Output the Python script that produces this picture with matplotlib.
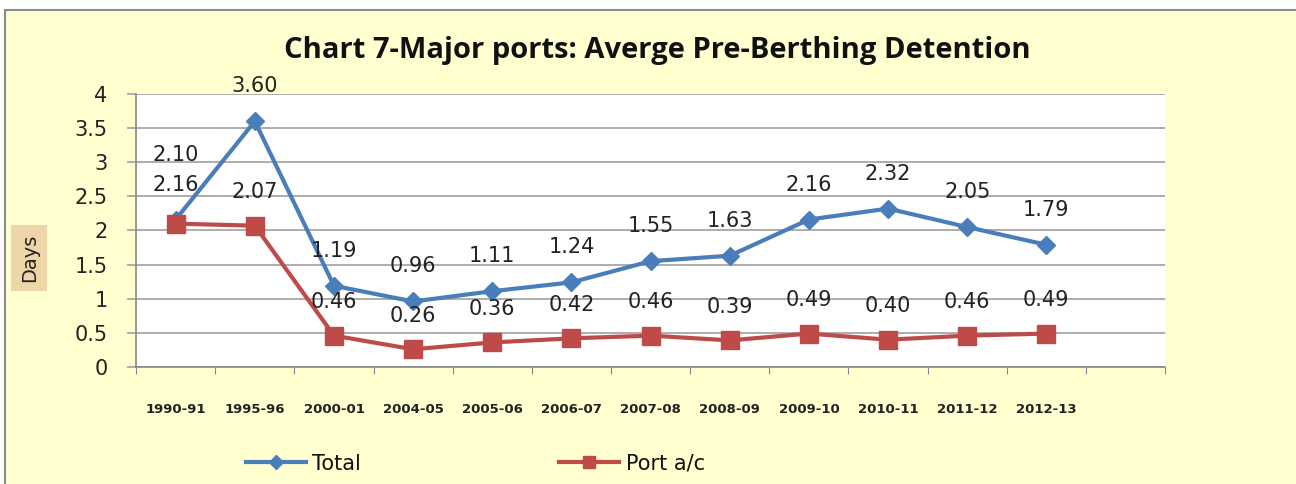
import matplotlib
matplotlib.use("Agg")
import matplotlib.pyplot as plt
import numpy as np

years = ["1990-91", "1995-96", "2000-01", "2004-05", "2005-06", "2006-07",
         "2007-08", "2008-09", "2009-10", "2010-11", "2011-12", "2012-13"]
total = [2.16, 3.60, 1.19, 0.96, 1.11, 1.24, 1.55, 1.63, 2.16, 2.32, 2.05, 1.79]
port = [2.10, 2.07, 0.46, 0.26, 0.36, 0.42, 0.46, 0.39, 0.49, 0.40, 0.46, 0.49]
yticks = [0, 0.5, 1, 1.5, 2, 2.5, 3, 3.5, 4]
ytick_labels = ["0", "0.5", "1", "1.5", "2", "2.5", "3", "3.5", "4"]

plt.rcParams['font.family'] = ['DejaVu Sans']

bg = "#FFFFD0"
blue = "#4A7EBB"
red = "#BE4B48"
txt = "#222222"

fig = plt.figure(figsize=(12.96, 4.84), dpi=100, facecolor="white")
fig.patches.append(plt.Rectangle((0.004, -0.01), 1.0, 0.989, transform=fig.transFigure,
                                 facecolor=bg, edgecolor="#8C8C8C", lw=1.5, zorder=-10))

ax = fig.add_axes([0.105, 0.2417, 0.794, 0.5643])
ax.set_zorder(1)
ax.set_facecolor("white")

x = np.arange(len(years))
ax.plot(x, total, color=blue, lw=3, marker="D", ms=9.5, label="Total", zorder=3)
ax.plot(x, port, color=red, lw=3, marker="s", ms=13, label="Port a/c", zorder=3)

for i, v in enumerate(total):
    ax.annotate(f"{v:.2f}", (x[i], v), xytext=(0, 18), textcoords="offset points",
                ha="center", va="bottom", fontsize=15, color=txt)
for i, v in enumerate(port):
    off = 42 if i == 0 else 17
    ax.annotate(f"{v:.2f}", (x[i], v), xytext=(0, off), textcoords="offset points",
                ha="center", va="bottom", fontsize=15, color=txt)

ax.set_xlim(-0.5, 12.5)
ax.set_ylim(0, 4)
ax.set_yticks(yticks)
ax.set_yticklabels(ytick_labels, fontsize=15, color=txt)
ax.yaxis.grid(True, color="#A0A0A0", lw=1.2)
ax.set_axisbelow(True)

ax.set_xticks(np.arange(-0.5, 13, 1))
ax.set_xticklabels([])
ax.set_xticks(x, minor=True)
ax.set_xticklabels(years, minor=True, fontsize=9.5, fontweight="bold", color=txt)
ax.tick_params(axis="x", which="minor", length=0, pad=26)
ax.tick_params(axis="x", which="major", length=5, color="#888888", direction="out")
ax.tick_params(axis="y", length=6.5, color="#A0A0A0", width=1.2, pad=14)

for s in ["top", "right"]:
    ax.spines[s].set_visible(False)
for s in ["left", "bottom"]:
    ax.spines[s].set_color("#888888")
    ax.spines[s].set_linewidth(1.2)

fig.text(0.507, 0.895, "Chart 7-Major ports: Averge Pre-Berthing Detention",
         ha="center", va="center", fontsize=21, fontweight="bold", color="#111111",
         family=["Open Sans", "DejaVu Sans"])

fig.text(0.0225, 0.467, "Days", rotation=90, ha="center", va="center", fontsize=14,
         color=txt,
         bbox=dict(boxstyle="square,pad=0.45", facecolor="#EED6A8", edgecolor="none"))

leg = fig.legend(loc="center left", bbox_to_anchor=(0.175, 0.042), ncol=2, frameon=False,
                 fontsize=15, columnspacing=9.5, handlelength=2.9, handletextpad=0.3,
                 markerscale=0.7)
for t in leg.get_texts():
    t.set_color("#111111")

fig.savefig("out.png", dpi=100, facecolor="white")
